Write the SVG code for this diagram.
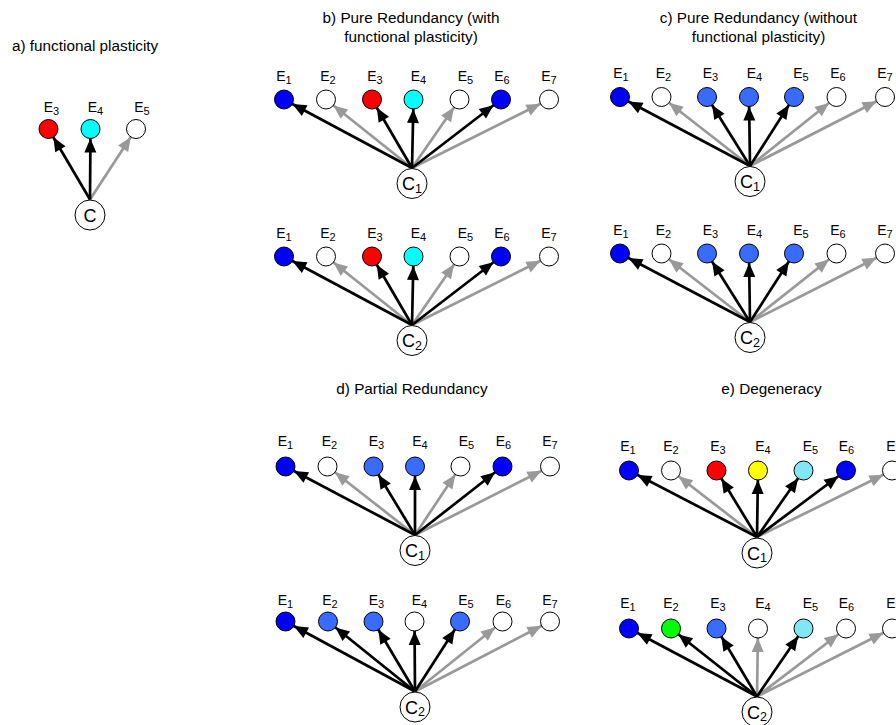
<svg xmlns="http://www.w3.org/2000/svg" width="896" height="725" viewBox="0 0 896 725">
<defs>
<style>
text{font-family:"Liberation Sans",Arial,sans-serif;fill:#000}
.t{font-size:15.3px}
.tm{font-size:15.3px;text-anchor:middle}
.lab{font-size:14px;text-anchor:middle}
.s{font-size:11px}
.cl{font-size:18px;text-anchor:middle}
.cs{font-size:12.5px}
.n{stroke:#000;stroke-width:1}
.fB{fill:#0000ff}.fM{fill:#3a6bff}.fW{fill:#fff}.fR{fill:#ff0000}.fC{fill:#00ffff}.fY{fill:#ffff00}.fL{fill:#80e8f4}.fG{fill:#00ff00}
.k{stroke:#000;stroke-width:2.7;fill:none;marker-end:url(#ak)}
.g{stroke:#999;stroke-width:2.7;fill:none;marker-end:url(#ag)}
</style>
<marker id="ak" markerUnits="userSpaceOnUse" markerWidth="14" markerHeight="12" refX="23.5" refY="6" orient="auto" overflow="visible"><path d="M0,0 L14,6 L0,12 Z" fill="#000"/></marker>
<marker id="ag" markerUnits="userSpaceOnUse" markerWidth="14" markerHeight="12" refX="23.5" refY="6" orient="auto" overflow="visible"><path d="M0,0 L14,6 L0,12 Z" fill="#999"/></marker>
</defs>
<rect width="896" height="725" fill="#fff"/>

<g id="titles">
<text class="t" x="12" y="51">a) functional plasticity</text>
<text class="tm" x="411" y="22.5">b) Pure Redundancy (with</text>
<text class="tm" x="411" y="41.5">functional plasticity)</text>
<text class="tm" x="758.5" y="22.5">c) Pure Redundancy (without</text>
<text class="tm" x="758.5" y="41.5">functional plasticity)</text>
<text class="tm" x="412" y="394">d) Partial Redundancy</text>
<text class="tm" x="771.5" y="394">e) Degeneracy</text>
</g>

<g id="connectors">
<!-- a -->
<line class="g" x1="90" y1="199.5" x2="136" y2="129"/>
<line class="k" x1="90" y1="199.5" x2="48.5" y2="129"/>
<line class="k" x1="90" y1="199.5" x2="90.5" y2="129"/>
<!-- b1 -->
<line class="g" x1="412" y1="168" x2="326" y2="99.5"/>
<line class="g" x1="412" y1="168" x2="459.5" y2="99.5"/>
<line class="g" x1="412" y1="168" x2="549" y2="99.5"/>
<line class="k" x1="412" y1="168" x2="284" y2="99.5"/>
<line class="k" x1="412" y1="168" x2="372" y2="99.5"/>
<line class="k" x1="412" y1="168" x2="413.5" y2="99.5"/>
<line class="k" x1="412" y1="168" x2="501" y2="99.5"/>
<!-- b2 -->
<line class="g" x1="412" y1="325" x2="326" y2="256.5"/>
<line class="g" x1="412" y1="325" x2="459.5" y2="256.5"/>
<line class="g" x1="412" y1="325" x2="549" y2="256.5"/>
<line class="k" x1="412" y1="325" x2="284" y2="256.5"/>
<line class="k" x1="412" y1="325" x2="372" y2="256.5"/>
<line class="k" x1="412" y1="325" x2="413.5" y2="256.5"/>
<line class="k" x1="412" y1="325" x2="501" y2="256.5"/>
<!-- c1 -->
<line class="g" x1="750" y1="166" x2="661.5" y2="97"/>
<line class="g" x1="750" y1="166" x2="836.5" y2="97"/>
<line class="g" x1="750" y1="166" x2="885" y2="97"/>
<line class="k" x1="750" y1="166" x2="620" y2="97"/>
<line class="k" x1="750" y1="166" x2="707" y2="97"/>
<line class="k" x1="750" y1="166" x2="749" y2="97"/>
<line class="k" x1="750" y1="166" x2="794" y2="97"/>
<!-- c2 -->
<line class="g" x1="750" y1="322" x2="661.5" y2="253.5"/>
<line class="g" x1="750" y1="322" x2="836.5" y2="253.5"/>
<line class="g" x1="750" y1="322" x2="885" y2="253.5"/>
<line class="k" x1="750" y1="322" x2="620" y2="253.5"/>
<line class="k" x1="750" y1="322" x2="707" y2="253.5"/>
<line class="k" x1="750" y1="322" x2="749" y2="253.5"/>
<line class="k" x1="750" y1="322" x2="794" y2="253.5"/>
<!-- d1 -->
<line class="g" x1="415" y1="535" x2="327.5" y2="466.5"/>
<line class="g" x1="415" y1="535" x2="460.5" y2="466.5"/>
<line class="g" x1="415" y1="535" x2="550" y2="466.5"/>
<line class="k" x1="415" y1="535" x2="285.5" y2="466.5"/>
<line class="k" x1="415" y1="535" x2="373.5" y2="466.5"/>
<line class="k" x1="415" y1="535" x2="415" y2="466.5"/>
<line class="k" x1="415" y1="535" x2="502.5" y2="466.5"/>
<!-- d2 -->
<line class="g" x1="415" y1="691.5" x2="502.5" y2="621.5"/>
<line class="g" x1="415" y1="691.5" x2="550" y2="621.5"/>
<line class="k" x1="415" y1="691.5" x2="285.5" y2="621.5"/>
<line class="k" x1="415" y1="691.5" x2="328" y2="621.5"/>
<line class="k" x1="415" y1="691.5" x2="373.5" y2="621.5"/>
<line class="k" x1="415" y1="691.5" x2="414.5" y2="621.5"/>
<line class="k" x1="415" y1="691.5" x2="460" y2="621.5"/>
<!-- e1 -->
<line class="g" x1="757" y1="537" x2="671" y2="470.5"/>
<line class="g" x1="757" y1="537" x2="892" y2="470.5"/>
<line class="k" x1="757" y1="537" x2="629" y2="470.5"/>
<line class="k" x1="757" y1="537" x2="716.5" y2="470.5"/>
<line class="k" x1="757" y1="537" x2="758" y2="470.5"/>
<line class="k" x1="757" y1="537" x2="803.5" y2="470.5"/>
<line class="k" x1="757" y1="537" x2="846" y2="470.5"/>
<!-- e2 -->
<line class="g" x1="757" y1="696.5" x2="758" y2="628.5"/>
<line class="g" x1="757" y1="696.5" x2="846" y2="628.5"/>
<line class="g" x1="757" y1="696.5" x2="892" y2="628.5"/>
<line class="k" x1="757" y1="696.5" x2="629" y2="628.5"/>
<line class="k" x1="757" y1="696.5" x2="671" y2="628.5"/>
<line class="k" x1="757" y1="696.5" x2="716.5" y2="628.5"/>
<line class="k" x1="757" y1="696.5" x2="803.5" y2="628.5"/>
</g>

<!-- panel a nodes -->
<g id="a-E3"><circle class="n fR" cx="48.5" cy="129" r="9.5"/><text class="lab" x="51.5" y="112">E<tspan class="s" dy="3">3</tspan></text></g>
<g id="a-E4"><circle class="n fC" cx="90.5" cy="129" r="9.5"/><text class="lab" x="95.5" y="112">E<tspan class="s" dy="3">4</tspan></text></g>
<g id="a-E5"><circle class="n fW" cx="136" cy="129" r="9.5"/><text class="lab" x="142" y="112">E<tspan class="s" dy="3">5</tspan></text></g>
<g id="a-C"><circle class="n fW" cx="90" cy="215" r="15"/><text class="cl" x="90" y="221.5">C</text></g>

<!-- panel b row 1 -->
<g id="b1-E1"><circle class="n fB" cx="284" cy="99.5" r="9.5"/><text class="lab" x="284" y="81">E<tspan class="s" dy="3">1</tspan></text></g>
<g id="b1-E2"><circle class="n fW" cx="326" cy="99.5" r="9.5"/><text class="lab" x="328" y="81">E<tspan class="s" dy="3">2</tspan></text></g>
<g id="b1-E3"><circle class="n fR" cx="372" cy="99.5" r="9.5"/><text class="lab" x="375" y="81">E<tspan class="s" dy="3">3</tspan></text></g>
<g id="b1-E4"><circle class="n fC" cx="413.5" cy="99.5" r="9.5"/><text class="lab" x="418.5" y="81">E<tspan class="s" dy="3">4</tspan></text></g>
<g id="b1-E5"><circle class="n fW" cx="459.5" cy="99.5" r="9.5"/><text class="lab" x="465.5" y="81">E<tspan class="s" dy="3">5</tspan></text></g>
<g id="b1-E6"><circle class="n fB" cx="501" cy="99.5" r="9.5"/><text class="lab" x="502" y="81">E<tspan class="s" dy="3">6</tspan></text></g>
<g id="b1-E7"><circle class="n fW" cx="549" cy="99.5" r="9.5"/><text class="lab" x="549" y="81">E<tspan class="s" dy="3">7</tspan></text></g>
<g id="b1-C1"><circle class="n fW" cx="412" cy="183.5" r="15"/><text class="cl" x="412" y="190">C<tspan class="cs" dy="2.5">1</tspan></text></g>

<!-- panel b row 2 -->
<g id="b2-E1"><circle class="n fB" cx="284" cy="256.5" r="9.5"/><text class="lab" x="284" y="238">E<tspan class="s" dy="3">1</tspan></text></g>
<g id="b2-E2"><circle class="n fW" cx="326" cy="256.5" r="9.5"/><text class="lab" x="328" y="238">E<tspan class="s" dy="3">2</tspan></text></g>
<g id="b2-E3"><circle class="n fR" cx="372" cy="256.5" r="9.5"/><text class="lab" x="375" y="238">E<tspan class="s" dy="3">3</tspan></text></g>
<g id="b2-E4"><circle class="n fC" cx="413.5" cy="256.5" r="9.5"/><text class="lab" x="418.5" y="238">E<tspan class="s" dy="3">4</tspan></text></g>
<g id="b2-E5"><circle class="n fW" cx="459.5" cy="256.5" r="9.5"/><text class="lab" x="465.5" y="238">E<tspan class="s" dy="3">5</tspan></text></g>
<g id="b2-E6"><circle class="n fB" cx="501" cy="256.5" r="9.5"/><text class="lab" x="502" y="238">E<tspan class="s" dy="3">6</tspan></text></g>
<g id="b2-E7"><circle class="n fW" cx="549" cy="256.5" r="9.5"/><text class="lab" x="549" y="238">E<tspan class="s" dy="3">7</tspan></text></g>
<g id="b2-C2"><circle class="n fW" cx="412" cy="340.5" r="15"/><text class="cl" x="412" y="347">C<tspan class="cs" dy="2.5">2</tspan></text></g>

<!-- panel c row 1 -->
<g id="c1-E1"><circle class="n fB" cx="620" cy="97" r="9.5"/><text class="lab" x="621" y="78">E<tspan class="s" dy="3">1</tspan></text></g>
<g id="c1-E2"><circle class="n fW" cx="661.5" cy="97" r="9.5"/><text class="lab" x="663.5" y="78">E<tspan class="s" dy="3">2</tspan></text></g>
<g id="c1-E3"><circle class="n fM" cx="707" cy="97" r="9.5"/><text class="lab" x="710.5" y="78">E<tspan class="s" dy="3">3</tspan></text></g>
<g id="c1-E4"><circle class="n fM" cx="749" cy="97" r="9.5"/><text class="lab" x="754.5" y="78">E<tspan class="s" dy="3">4</tspan></text></g>
<g id="c1-E5"><circle class="n fM" cx="794" cy="97" r="9.5"/><text class="lab" x="801" y="78">E<tspan class="s" dy="3">5</tspan></text></g>
<g id="c1-E6"><circle class="n fW" cx="836.5" cy="97" r="9.5"/><text class="lab" x="838" y="78">E<tspan class="s" dy="3">6</tspan></text></g>
<g id="c1-E7"><circle class="n fW" cx="885" cy="97" r="9.5"/><text class="lab" x="885" y="78">E<tspan class="s" dy="3">7</tspan></text></g>
<g id="c1-C1"><circle class="n fW" cx="750" cy="181.5" r="15"/><text class="cl" x="750" y="188">C<tspan class="cs" dy="2.5">1</tspan></text></g>

<!-- panel c row 2 -->
<g id="c2-E1"><circle class="n fB" cx="620" cy="253.5" r="9.5"/><text class="lab" x="621" y="235">E<tspan class="s" dy="3">1</tspan></text></g>
<g id="c2-E2"><circle class="n fW" cx="661.5" cy="253.5" r="9.5"/><text class="lab" x="663.5" y="235">E<tspan class="s" dy="3">2</tspan></text></g>
<g id="c2-E3"><circle class="n fM" cx="707" cy="253.5" r="9.5"/><text class="lab" x="710.5" y="235">E<tspan class="s" dy="3">3</tspan></text></g>
<g id="c2-E4"><circle class="n fM" cx="749" cy="253.5" r="9.5"/><text class="lab" x="754.5" y="235">E<tspan class="s" dy="3">4</tspan></text></g>
<g id="c2-E5"><circle class="n fM" cx="794" cy="253.5" r="9.5"/><text class="lab" x="801" y="235">E<tspan class="s" dy="3">5</tspan></text></g>
<g id="c2-E6"><circle class="n fW" cx="836.5" cy="253.5" r="9.5"/><text class="lab" x="838" y="235">E<tspan class="s" dy="3">6</tspan></text></g>
<g id="c2-E7"><circle class="n fW" cx="885" cy="253.5" r="9.5"/><text class="lab" x="885" y="235">E<tspan class="s" dy="3">7</tspan></text></g>
<g id="c2-C2"><circle class="n fW" cx="750" cy="337.5" r="15"/><text class="cl" x="750" y="344">C<tspan class="cs" dy="2.5">2</tspan></text></g>

<!-- panel d row 1 -->
<g id="d1-E1"><circle class="n fB" cx="285.5" cy="466.5" r="9.5"/><text class="lab" x="285.5" y="446">E<tspan class="s" dy="3">1</tspan></text></g>
<g id="d1-E2"><circle class="n fW" cx="327.5" cy="466.5" r="9.5"/><text class="lab" x="329.5" y="446">E<tspan class="s" dy="3">2</tspan></text></g>
<g id="d1-E3"><circle class="n fM" cx="373.5" cy="466.5" r="9.5"/><text class="lab" x="376.5" y="446">E<tspan class="s" dy="3">3</tspan></text></g>
<g id="d1-E4"><circle class="n fM" cx="415" cy="466.5" r="9.5"/><text class="lab" x="420" y="446">E<tspan class="s" dy="3">4</tspan></text></g>
<g id="d1-E5"><circle class="n fW" cx="460.5" cy="466.5" r="9.5"/><text class="lab" x="466.5" y="446">E<tspan class="s" dy="3">5</tspan></text></g>
<g id="d1-E6"><circle class="n fB" cx="502.5" cy="466.5" r="9.5"/><text class="lab" x="503.5" y="446">E<tspan class="s" dy="3">6</tspan></text></g>
<g id="d1-E7"><circle class="n fW" cx="550" cy="466.5" r="9.5"/><text class="lab" x="550" y="446">E<tspan class="s" dy="3">7</tspan></text></g>
<g id="d1-C1"><circle class="n fW" cx="415" cy="550.5" r="15"/><text class="cl" x="415" y="557">C<tspan class="cs" dy="2.5">1</tspan></text></g>

<!-- panel d row 2 -->
<g id="d2-E1"><circle class="n fB" cx="285.5" cy="621.5" r="9.5"/><text class="lab" x="285.5" y="605">E<tspan class="s" dy="3">1</tspan></text></g>
<g id="d2-E2"><circle class="n fM" cx="328" cy="621.5" r="9.5"/><text class="lab" x="330" y="605">E<tspan class="s" dy="3">2</tspan></text></g>
<g id="d2-E3"><circle class="n fM" cx="373.5" cy="621.5" r="9.5"/><text class="lab" x="376.5" y="605">E<tspan class="s" dy="3">3</tspan></text></g>
<g id="d2-E4"><circle class="n fW" cx="414.5" cy="621.5" r="9.5"/><text class="lab" x="419.5" y="605">E<tspan class="s" dy="3">4</tspan></text></g>
<g id="d2-E5"><circle class="n fM" cx="460" cy="621.5" r="9.5"/><text class="lab" x="466" y="605">E<tspan class="s" dy="3">5</tspan></text></g>
<g id="d2-E6"><circle class="n fW" cx="502.5" cy="621.5" r="9.5"/><text class="lab" x="503.5" y="605">E<tspan class="s" dy="3">6</tspan></text></g>
<g id="d2-E7"><circle class="n fW" cx="550" cy="621.5" r="9.5"/><text class="lab" x="550" y="605">E<tspan class="s" dy="3">7</tspan></text></g>
<g id="d2-C2"><circle class="n fW" cx="415" cy="707" r="15"/><text class="cl" x="415" y="713.5">C<tspan class="cs" dy="2.5">2</tspan></text></g>

<!-- panel e row 1 -->
<g id="e1-E1"><circle class="n fB" cx="629" cy="470.5" r="9.5"/><text class="lab" x="628" y="451">E<tspan class="s" dy="3">1</tspan></text></g>
<g id="e1-E2"><circle class="n fW" cx="671" cy="470.5" r="9.5"/><text class="lab" x="671" y="451">E<tspan class="s" dy="3">2</tspan></text></g>
<g id="e1-E3"><circle class="n fR" cx="716.5" cy="470.5" r="9.5"/><text class="lab" x="718" y="451">E<tspan class="s" dy="3">3</tspan></text></g>
<g id="e1-E4"><circle class="n fY" cx="758" cy="470.5" r="9.5"/><text class="lab" x="763" y="451">E<tspan class="s" dy="3">4</tspan></text></g>
<g id="e1-E5"><circle class="n fL" cx="803.5" cy="470.5" r="9.5"/><text class="lab" x="810.5" y="451">E<tspan class="s" dy="3">5</tspan></text></g>
<g id="e1-E6"><circle class="n fB" cx="846" cy="470.5" r="9.5"/><text class="lab" x="846.5" y="451">E<tspan class="s" dy="3">6</tspan></text></g>
<g id="e1-E7"><circle class="n fW" cx="892" cy="470.5" r="9.5"/><text class="lab" x="894" y="451">E<tspan class="s" dy="3">7</tspan></text></g>
<g id="e1-C1"><circle class="n fW" cx="757" cy="553" r="15"/><text class="cl" x="757" y="559.5">C<tspan class="cs" dy="2.5">1</tspan></text></g>

<!-- panel e row 2 -->
<g id="e2-E1"><circle class="n fB" cx="629" cy="628.5" r="9.5"/><text class="lab" x="628" y="608">E<tspan class="s" dy="3">1</tspan></text></g>
<g id="e2-E2"><circle class="n fG" cx="671" cy="628.5" r="9.5"/><text class="lab" x="671" y="608">E<tspan class="s" dy="3">2</tspan></text></g>
<g id="e2-E3"><circle class="n fM" cx="716.5" cy="628.5" r="9.5"/><text class="lab" x="718" y="608">E<tspan class="s" dy="3">3</tspan></text></g>
<g id="e2-E4"><circle class="n fW" cx="758" cy="628.5" r="9.5"/><text class="lab" x="763" y="608">E<tspan class="s" dy="3">4</tspan></text></g>
<g id="e2-E5"><circle class="n fL" cx="803.5" cy="628.5" r="9.5"/><text class="lab" x="810.5" y="608">E<tspan class="s" dy="3">5</tspan></text></g>
<g id="e2-E6"><circle class="n fW" cx="846" cy="628.5" r="9.5"/><text class="lab" x="846.5" y="608">E<tspan class="s" dy="3">6</tspan></text></g>
<g id="e2-E7"><circle class="n fW" cx="892" cy="628.5" r="9.5"/><text class="lab" x="894" y="608">E<tspan class="s" dy="3">7</tspan></text></g>
<g id="e2-C2"><circle class="n fW" cx="757" cy="712" r="15"/><text class="cl" x="757" y="718.5">C<tspan class="cs" dy="2.5">2</tspan></text></g>
</svg>
